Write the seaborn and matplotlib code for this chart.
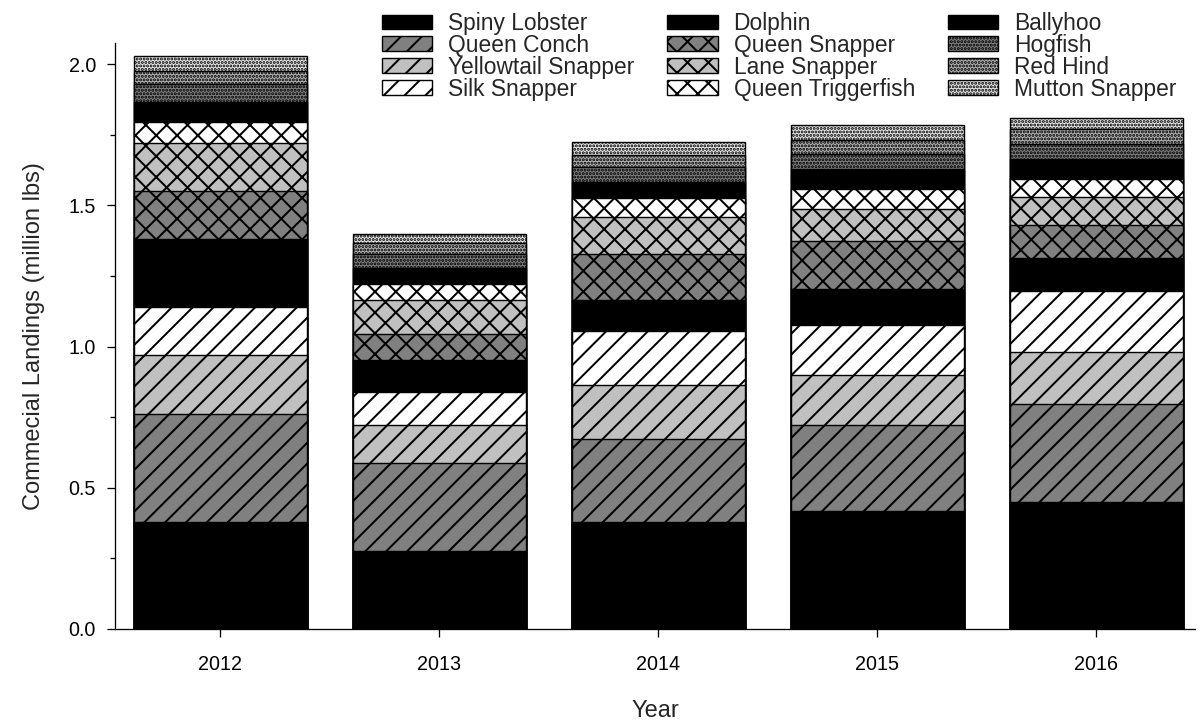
import numpy as np
import pandas as pd
import matplotlib
matplotlib.use("Agg")
import matplotlib.pyplot as plt
from matplotlib.patches import Patch
from matplotlib.ticker import MultipleLocator, FormatStrFormatter
import seaborn as sns

# ---- data (million lbs) ----
years = ["2012", "2013", "2014", "2015", "2016"]
species = ["Spiny Lobster", "Queen Conch", "Yellowtail Snapper", "Silk Snapper",
           "Dolphin", "Queen Snapper", "Lane Snapper", "Queen Triggerfish",
           "Ballyhoo", "Hogfish", "Red Hind", "Mutton Snapper"]

spiny_lobster      = [0.380, 0.275, 0.378, 0.418, 0.450]
queen_conch        = [0.380, 0.313, 0.294, 0.304, 0.347]
yellowtail_snapper = [0.210, 0.134, 0.192, 0.177, 0.183]
silk_snapper       = [0.170, 0.118, 0.191, 0.177, 0.216]
dolphin            = [0.240, 0.112, 0.110, 0.128, 0.117]
queen_snapper      = [0.170, 0.093, 0.162, 0.169, 0.117]
lane_snapper       = [0.170, 0.120, 0.133, 0.114, 0.100]
queen_triggerfish  = [0.075, 0.055, 0.065, 0.071, 0.063]
ballyhoo           = [0.070, 0.060, 0.057, 0.070, 0.071]
hogfish            = [0.065, 0.047, 0.053, 0.053, 0.053]
red_hind           = [0.045, 0.039, 0.045, 0.050, 0.053]
mutton_snapper     = [0.055, 0.034, 0.044, 0.053, 0.040]

series = [spiny_lobster, queen_conch, yellowtail_snapper, silk_snapper,
          dolphin, queen_snapper, lane_snapper, queen_triggerfish,
          ballyhoo, hogfish, red_hind, mutton_snapper]

# ---- styles ----
fills = ["#000000", "#808080", "#c0c0c0", "#ffffff",
         "#000000", "#808080", "#c0c0c0", "#ffffff",
         "#000000", "#7e7e7e", "#b0b0b0", "#e6e6e6"]
hatches = [None, "//", "//", "//",
           None, "xx", "xx", "xx",
           None, "......", "......", "......"]

DPI = 125
W, H = 1202, 726


def px(v):
    return v * 72.0 / DPI


sns.set_style("ticks")
plt.rcParams["font.family"] = ["Liberation Sans", "DejaVu Sans"]
plt.rcParams["hatch.linewidth"] = 1.15
plt.rcParams["hatch.color"] = "black"

fig = plt.figure(figsize=(W / DPI, H / DPI), dpi=DPI)
ax = fig.add_axes([115 / W, 1 - 629 / H, (1195 - 115) / W, (629 - 43) / H])

# long-form table with running totals per year
rows = []
for name, vals in zip(species, series):
    for yr, v in zip(years, vals):
        rows.append({"Year": yr, "Species": name, "Landings": v})
df = pd.DataFrame(rows)
df["Top"] = df.groupby("Year")["Landings"].cumsum()

# draw from the uppermost layer down so each lower segment covers the one above
for name, fc, hatch in reversed(list(zip(species, fills, hatches))):
    sub = df[df["Species"] == name]
    sns.barplot(data=sub, x="Year", y="Top", order=years, ax=ax,
                color=fc, saturation=1, width=0.79, hatch=hatch,
                edgecolor="black", linewidth=px(1.4), errorbar=None)

ax.set_xlim(-0.48, 4.45)
ax.set_ylim(0, 2.075)
ax.yaxis.set_major_locator(MultipleLocator(0.5))
ax.yaxis.set_minor_locator(MultipleLocator(0.25))
ax.yaxis.set_major_formatter(FormatStrFormatter("%.1f"))

sns.despine(ax=ax)
for side in ("left", "bottom"):
    ax.spines[side].set_linewidth(px(1.3))
    ax.spines[side].set_color("black")

ax.tick_params(axis="both", which="major", direction="out", length=px(8),
               width=px(1.3), color="black", labelsize=px(19.8), labelcolor="black")
ax.tick_params(axis="y", which="minor", direction="out", length=px(5),
               width=px(1.3), color="black")
ax.tick_params(axis="x", which="major", pad=px(18))
ax.tick_params(axis="y", which="major", pad=px(11))

ax.set_xlabel("Year", fontsize=px(23.7), labelpad=px(26))
ax.set_ylabel("Commecial Landings (million lbs)", fontsize=px(23.7), labelpad=px(24))

handles = [Patch(facecolor=fc, edgecolor="black", hatch=h, linewidth=px(1.4), label=name)
           for name, fc, h in zip(species, fills, hatches)]
fig.legend(handles=handles, ncol=3, loc="upper left",
           bbox_to_anchor=(382 / W, 1 - 12 / H), frameon=False,
           fontsize=px(22.8), handlelength=2.2, handleheight=0.62,
           handletextpad=0.7, labelspacing=-0.05, columnspacing=1.45,
           borderpad=0, borderaxespad=0)

fig.savefig("out.png", dpi=DPI)
